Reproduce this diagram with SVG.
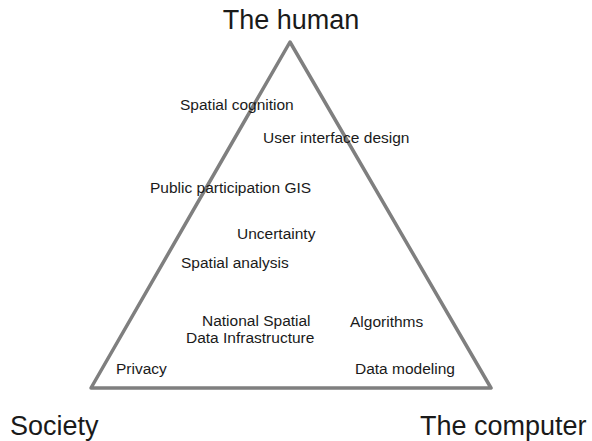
<svg xmlns="http://www.w3.org/2000/svg" width="592" height="441" viewBox="0 0 592 441">
  <style>
    .edge { fill: none; stroke: #7f7f7f; stroke-width: 3.5; stroke-linejoin: round; stroke-linecap: round; }
    .corner { font-family: "Liberation Sans", Arial, sans-serif; font-size: 27px; fill: #1a1a1a; }
    .topic { font-family: "Liberation Sans", Arial, sans-serif; font-size: 15.5px; fill: #1a1a1a; }
  </style>
  <rect width="592" height="441" fill="#ffffff"/>

  <!-- triangle connecting the three poles -->
  <g id="connectors">
    <path class="edge" d="M290,42 L491,388 L91,388 Z"/>
  </g>

  <!-- corner poles -->
  <g id="human"><text class="corner" x="291" y="29" text-anchor="middle">The human</text></g>
  <g id="society"><text class="corner" x="10" y="435">Society</text></g>
  <g id="computer"><text class="corner" x="420" y="435">The computer</text></g>

  <!-- research topics -->
  <g id="spatial-cognition"><text class="topic" x="180" y="110">Spatial cognition</text></g>
  <g id="user-interface-design"><text class="topic" x="263" y="143">User interface design</text></g>
  <g id="ppgis"><text class="topic" x="150" y="193">Public participation GIS</text></g>
  <g id="uncertainty"><text class="topic" x="237" y="239">Uncertainty</text></g>
  <g id="spatial-analysis"><text class="topic" x="181" y="268">Spatial analysis</text></g>
  <g id="nsdi">
    <text class="topic" x="202" y="326">National Spatial</text>
    <text class="topic" x="186" y="343">Data Infrastructure</text>
  </g>
  <g id="algorithms"><text class="topic" x="350" y="327">Algorithms</text></g>
  <g id="privacy"><text class="topic" x="116" y="374">Privacy</text></g>
  <g id="data-modeling"><text class="topic" x="355" y="374">Data modeling</text></g>
</svg>
